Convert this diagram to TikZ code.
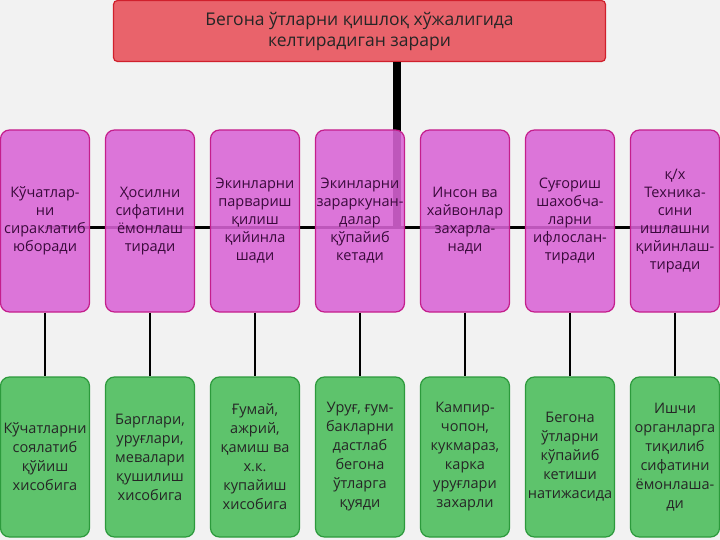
\documentclass[tikz,border=0pt]{standalone}
\usepackage{fontspec}
\setmainfont{Open Sans}
\begin{document}
\begin{tikzpicture}[x=1pt,y=-1pt,
  pinkbox/.style={draw=pinkb,line width=1.2pt,fill=pinkf,fill opacity=0.88,text opacity=1,rounded corners=9pt,minimum width=89pt,minimum height=182pt,align=center,font=\fontsize{14.5}{18}\selectfont,text=txt,inner sep=0pt},
  greenbox/.style={draw=greenb,line width=1.2pt,fill=greenf,rounded corners=9pt,minimum width=89pt,minimum height=160pt,align=center,font=\fontsize{14.5}{19}\selectfont,text=black!85,inner sep=0pt},
  link/.style={line width=2.2pt,black}]
\definecolor{pinkf}{HTML}{D964D6}
\definecolor{pinkb}{HTML}{C41E8C}
\definecolor{greenf}{HTML}{5EC36C}
\definecolor{greenb}{HTML}{2C9A3C}
\definecolor{txt}{HTML}{3A0A3C}
\definecolor{redf}{HTML}{E9636B}
\definecolor{redb}{HTML}{D0202C}
\useasboundingbox (0,0) rectangle (720,540);
\fill[black!5] (0,0) rectangle (720,540);
\node[draw=redb,line width=1.2pt,fill=redf,rounded corners=4pt,minimum width=492pt,minimum height=61pt,align=center,font=\fontsize{17.5}{21}\selectfont,text=black!85] (top) at (359.5,31) {Бегона ўтларни қишлоқ хўжалигида\\ келтирадиган зарари};
\coordinate (j) at (397,228);
\coordinate (hl) at (45,228);
\coordinate (hr) at (680,228);
\draw[line width=8pt] (top.south -| j) -- (j);
\draw[line width=3pt] (hl) -- (hr);
\foreach \i/\x/\t/\b in {
 1/45/{Кўчатлар-\\ни\\сираклатиб\\юборади}/{Кўчатларни\\соялатиб\\қўйиш\\хисобига},
 2/150/{Ҳосилни\\сифатини\\ёмонлаш\\тиради}/{Барглари,\\уруғлари,\\мевалари\\қушилиш\\хисобига},
 3/255/{Экинларни\\парвариш\\қилиш\\қийинла\\шади}/{Ғумай,\\ажрий,\\қамиш ва\\х.к.\\купайиш\\хисобига},
 4/360/{Экинларни\\зараркунан-\\далар\\қўпайиб\\кетади}/{Уруғ, ғум-\\бакларни\\дастлаб\\бегона\\ўтларга\\қуяди},
 5/465/{Инсон ва\\хайвонлар\\захарла-\\нади}/{Кампир-\\чопон,\\кукмараз,\\карка\\уруғлари\\захарли},
 6/570/{Суғориш\\шахобча-\\ларни\\ифлослан-\\тиради}/{Бегона\\ўтларни\\кўпайиб\\кетиши\\натижасида},
 7/675/{қ/х\\Техника-\\сини\\ишлашни\\қийинлаш-\\тиради}/{Ишчи\\органларга\\тиқилиб\\сифатини\\ёмонлаша-\\ди}}{
  \node[pinkbox] (p\i) at (\x,221) {\t};
  \node[greenbox] (g\i) at (\x,457) {\b};
  \draw[link] (p\i.south) -- (g\i.north);
}
\end{tikzpicture}
\end{document}
